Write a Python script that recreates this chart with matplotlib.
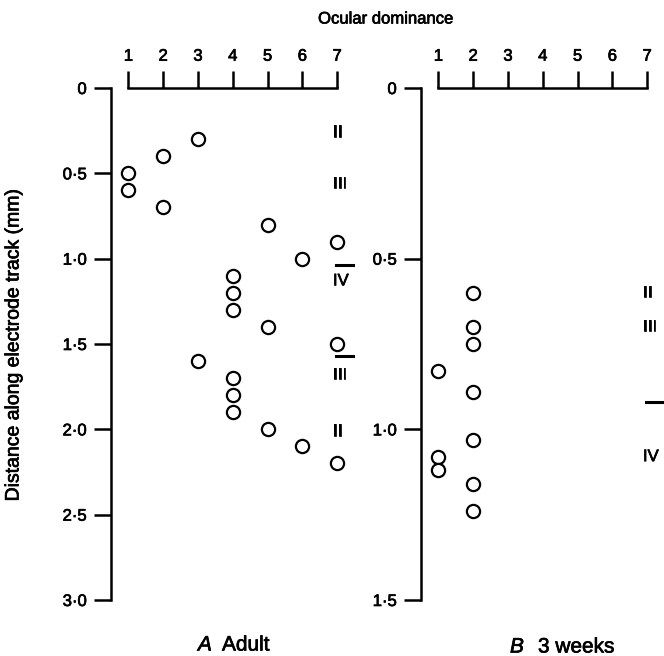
import matplotlib
matplotlib.use('Agg')
import matplotlib.pyplot as plt
import matplotlib.patheffects as pe

plt.rcParams['font.family'] = ['Liberation Sans', 'DejaVu Sans']

# panel A, adult
adult_od = [1, 1, 2, 2, 3, 5, 7, 6, 4, 4, 4, 5, 7, 3, 4, 4, 4, 5, 6, 7]
adult_depth = [0.5, 0.6, 0.4, 0.7, 0.3, 0.8, 0.9, 1.0, 1.1, 1.2, 1.3, 1.4,
               1.5, 1.6, 1.7, 1.8, 1.9, 2.0, 2.1, 2.2]
adult_layers = ['II', 'III', 'IV', 'III', 'II']
adult_layer_depth = [0.26, 0.56, 1.13, 1.68, 2.01]
adult_borders = [1.04, 1.57]
adult_yticks = [0, 0.5, 1.0, 1.5, 2.0, 2.5, 3.0]
adult_ylabels = ['0', '0·5', '1·0', '1·5', '2·0', '2·5', '3·0']

# panel B, 3 weeks
kitten_od = [1, 1, 1, 2, 2, 2, 2, 2, 2, 2]
kitten_depth = [0.83, 1.08, 1.12, 0.6, 0.7, 0.75, 0.89, 1.03, 1.16, 1.24]
kitten_layers = ['II', 'III', 'IV']
kitten_layer_depth = [0.6, 0.7, 1.08]
kitten_borders = [0.92]
kitten_yticks = [0, 0.5, 1.0, 1.5]
kitten_ylabels = ['0', '0·5', '1·0', '1·5']

od_ticks = [1, 2, 3, 4, 5, 6, 7]

FS = 12
LW = 1.8
# printed look: thicken glyphs a little
INK = [pe.withStroke(linewidth=0.5, foreground='black')]


def panel(ax, od, depth, layers, layer_depth, borders, yticks, ylabels):
    ax.plot(od, depth, 'o', ms=9.5, mfc='white', mec='black', mew=1.6,
            clip_on=False)
    for name, d in zip(layers, layer_depth):
        ax.text(6.88, d, name, fontsize=FS, va='center', ha='left',
                path_effects=INK)
    for d in borders:
        ax.plot([6.97, 7.47], [d, d], color='black', lw=2.2, clip_on=False)

    ax.set_xlim(0.5, 7.6)
    ax.set_ylim(yticks[-1], 0)
    for s in ['right', 'bottom']:
        ax.spines[s].set_visible(False)
    ax.spines['left'].set_bounds(0, yticks[-1])
    ax.spines['top'].set_bounds(1, 7)
    ax.spines['left'].set_linewidth(LW)
    ax.spines['top'].set_linewidth(LW)
    ax.xaxis.tick_top()
    ax.set_xticks(od_ticks)
    ax.set_xticklabels([str(t) for t in od_ticks])
    ax.set_yticks(yticks)
    ax.set_yticklabels(ylabels)
    ax.tick_params(axis='both', direction='out', length=12.5, width=LW,
                   labelsize=FS, pad=5)
    for lab in ax.get_xticklabels() + ax.get_yticklabels():
        lab.set_path_effects(INK)


fig = plt.figure(figsize=(6.64, 6.56), dpi=100)
bottom = 1 - 600 / 656
height = (600 - 88) / 656
axA = fig.add_axes([111 / 664, bottom, 247 / 664, height])
axB = fig.add_axes([421 / 664, bottom, 247 / 664, height])

panel(axA, adult_od, adult_depth, adult_layers, adult_layer_depth,
      adult_borders, adult_yticks, adult_ylabels)
panel(axB, kitten_od, kitten_depth, kitten_layers, kitten_layer_depth,
      kitten_borders, kitten_yticks, kitten_ylabels)

fig.text(386 / 664, 1 - 19 / 656, 'Ocular dominance', fontsize=FS,
         ha='center', va='center', path_effects=INK)
fig.text(14 / 664, 1 - 344 / 656, 'Distance along electrode track (mm)',
         fontsize=14, rotation=90, ha='center', va='center', path_effects=INK)

fig.text(198 / 664, 1 - 645 / 656, 'A', fontsize=15, style='italic',
         ha='left', va='center', path_effects=INK)
fig.text(222 / 664, 1 - 645 / 656, 'Adult', fontsize=15, ha='left',
         va='center', path_effects=INK)
fig.text(510 / 664, 1 - 647 / 656, 'B', fontsize=15, style='italic',
         ha='left', va='center', path_effects=INK)
fig.text(538 / 664, 1 - 647 / 656, '3 weeks', fontsize=15, ha='left',
         va='center', path_effects=INK)

fig.savefig('out.png', dpi=100)
